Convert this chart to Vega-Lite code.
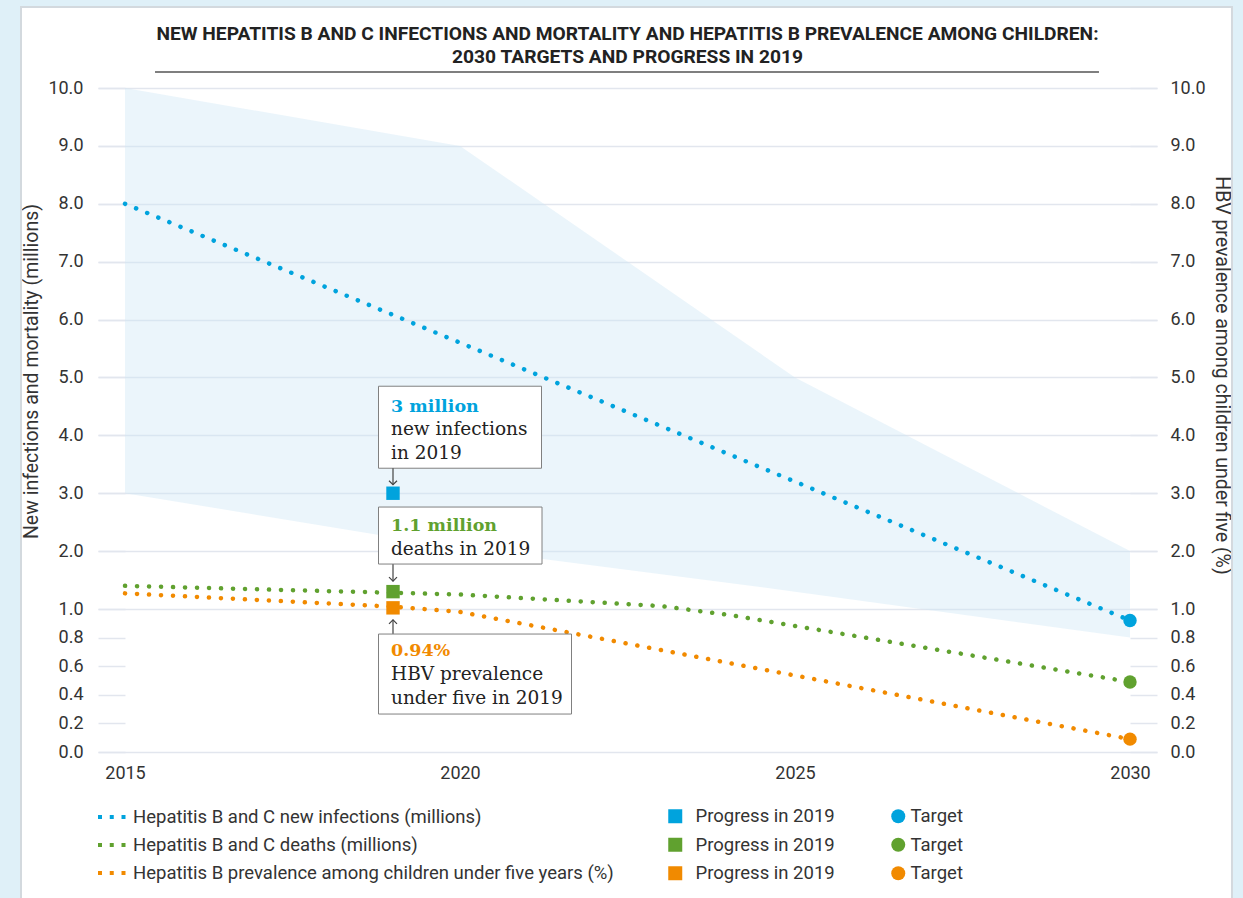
{
  "$schema": "https://vega.github.io/schema/vega-lite/v6.json",
  "width": 1059,
  "height": 664,
  "autosize": {"type": "none"},
  "padding": {"left": 98, "top": 88, "right": 86, "bottom": 146},
  "background": "#ffffff",
  "config": {"view": {"stroke": null}, "font": "Roboto"},
  "title": {
    "text": ["NEW HEPATITIS B AND C INFECTIONS AND MORTALITY AND HEPATITIS B PREVALENCE AMONG CHILDREN:", "2030 TARGETS AND PROGRESS IN 2019"],
    "anchor": "middle",
    "frame": "group",
    "font": "Roboto",
    "fontSize": 19.2,
    "fontWeight": "bold",
    "color": "#222222",
    "lineHeight": 23,
    "offset": 0,
    "dy": 102.5
  },
  "datasets": {
    "band": [
      {"year": 2015, "high": 10, "low": 3.0},
      {"year": 2020, "high": 9, "low": 2.05},
      {"year": 2025, "high": 5, "low": 1.3},
      {"year": 2030, "high": 2, "low": 0.8}
    ],
    "trend": [
      {"series": "Hepatitis B and C new infections (millions)", "year": 2015, "value": 8.0},
      {"series": "Hepatitis B and C new infections (millions)", "year": 2020, "value": 5.6},
      {"series": "Hepatitis B and C new infections (millions)", "year": 2025, "value": 3.2},
      {"series": "Hepatitis B and C new infections (millions)", "year": 2029, "value": 1.28},
      {"series": "Hepatitis B and C new infections (millions)", "year": 2030, "value": 0.92},
      {"series": "Hepatitis B and C deaths (millions)", "year": 2015, "value": 1.4},
      {"series": "Hepatitis B and C deaths (millions)", "year": 2020, "value": 1.25},
      {"series": "Hepatitis B and C deaths (millions)", "year": 2023, "value": 1.05},
      {"series": "Hepatitis B and C deaths (millions)", "year": 2024, "value": 0.96},
      {"series": "Hepatitis B and C deaths (millions)", "year": 2030, "value": 0.49},
      {"series": "Hepatitis B prevalence among children under five years (%)", "year": 2015, "value": 1.27},
      {"series": "Hepatitis B prevalence among children under five years (%)", "year": 2019, "value": 1.04},
      {"series": "Hepatitis B prevalence among children under five years (%)", "year": 2020, "value": 0.98},
      {"series": "Hepatitis B prevalence among children under five years (%)", "year": 2030, "value": 0.09}
    ],
    "progress": [
      {"key": "infections", "series": "Hepatitis B and C new infections (millions)", "year": 2019, "value": 3.0, "headline": "3 million", "detail": ["new infections", "in 2019"]},
      {"key": "deaths", "series": "Hepatitis B and C deaths (millions)", "year": 2019, "value": 1.3, "headline": "1.1 million", "detail": ["deaths in 2019"]},
      {"key": "prevalence", "series": "Hepatitis B prevalence among children under five years (%)", "year": 2019, "value": 1.02, "headline": "0.94%", "detail": ["HBV prevalence", "under five in 2019"]}
    ],
    "target": [
      {"series": "Hepatitis B and C new infections (millions)", "year": 2030, "value": 0.92},
      {"series": "Hepatitis B and C deaths (millions)", "year": 2030, "value": 0.49},
      {"series": "Hepatitis B prevalence among children under five years (%)", "year": 2030, "value": 0.09}
    ]
  },
  "layer": [
    {
      "data": {"values": [{}]},
      "mark": {"type": "rect", "filled": false, "stroke": "#dff0f8", "strokeWidth": 42},
      "encoding": {
        "x": {"datum": 2013.134, "type": "quantitative", "scale": {"domain": [2015, 2030], "padding": 27, "nice": false, "zero": false}, "axis": null},
        "x2": {"datum": 2031.836},
        "y": {"datum": 11.762, "type": "quantitative", "scale": {"domain": [0, 1, 10], "range": [664, 521, 0], "nice": false, "zero": false}, "axis": null},
        "y2": {"datum": -1.385}
      }
    },
    {
      "data": {"values": [{}]},
      "mark": {"type": "rect", "filled": false, "stroke": "#d3d9de", "strokeWidth": 2},
      "encoding": {
        "x": {"datum": 2013.448, "type": "quantitative", "scale": {"domain": [2015, 2030], "padding": 27, "nice": false, "zero": false}, "axis": null},
        "x2": {"datum": 2031.522},
        "y": {"datum": 11.399, "type": "quantitative", "scale": {"domain": [0, 1, 10], "range": [664, 521, 0], "nice": false, "zero": false}, "axis": null},
        "y2": {"datum": -1.385}
      }
    },
    {
      "data": {"name": "band"},
      "mark": {"type": "area", "fill": "#cee6f5", "opacity": 0.4},
      "encoding": {
        "x": {"field": "year", "type": "quantitative", "scale": {"domain": [2015, 2030], "padding": 27, "nice": false, "zero": false},
          "axis": {"values": [2015, 2020, 2025, 2030], "format": "d", "title": null, "grid": false, "domain": false, "ticks": false, "labelPadding": 12, "labelFont": "Roboto", "labelFontSize": 18, "labelColor": "#333333", "labelFlush": false, "labelOverlap": false}},
        "y": {"field": "high", "type": "quantitative", "scale": {"domain": [0, 1, 10], "range": [664, 521, 0], "nice": false, "zero": false},
          "axis": {"orient": "left", "values": [0, 0.2, 0.4, 0.6, 0.8, 1, 2, 3, 4, 5, 6, 7, 8, 9, 10], "format": ".1f",
            "title": "New infections and mortality (millions)", "titleFont": "Roboto", "titleFontSize": 19.5, "titleFontWeight": "normal", "titleColor": "#333333", "titlePadding": 6, "titleY": 283,
            "grid": true, "gridColor": "#e2e6ee", "gridWidth": 1.5,
            "gridOpacity": {"condition": {"test": "datum.value > 0 && datum.value < 1", "value": 0}, "value": 1},
            "domain": false, "ticks": true, "tickSize": -27, "tickColor": "#e2e6ee", "tickWidth": 1.5,
            "labelPadding": 42, "labelFont": "Roboto", "labelFontSize": 18, "labelColor": "#333333", "labelFlush": false, "labelOverlap": false}},
        "y2": {"field": "low"}
      }
    },
    {
      "data": {"values": [{}]},
      "mark": {"type": "rule", "stroke": "#555555", "strokeWidth": 1.5},
      "encoding": {
        "x": {"datum": 2015.448, "type": "quantitative", "scale": {"domain": [2015, 2030], "padding": 27, "nice": false, "zero": false}, "axis": null},
        "x2": {"datum": 2029.537},
        "y": {"datum": 10.276, "type": "quantitative", "scale": {"domain": [0, 1, 10], "range": [664, 521, 0], "nice": false, "zero": false}, "axis": null}
      }
    },
    {
      "data": {"name": "trend"},
      "mark": {"type": "line", "strokeWidth": 4.5, "strokeDash": [0.1, 11.9], "strokeCap": "round"},
      "encoding": {
        "x": {"field": "year", "type": "quantitative", "scale": {"domain": [2015, 2030], "padding": 27, "nice": false, "zero": false}, "axis": null},
        "y": {"field": "value", "type": "quantitative", "scale": {"domain": [0, 1, 10], "range": [664, 521, 0], "nice": false, "zero": false},
          "axis": {"orient": "right", "values": [0, 0.2, 0.4, 0.6, 0.8, 1, 2, 3, 4, 5, 6, 7, 8, 9, 10], "format": ".1f",
            "title": "HBV prevalence among children under five (%)", "titleFont": "Roboto", "titleFontSize": 19.5, "titleFontWeight": "normal", "titleColor": "#333333", "titlePadding": 6, "titleY": 287,
            "grid": false, "domain": false, "ticks": true, "tickSize": -27, "tickColor": "#e2e6ee", "tickWidth": 1.5,
            "labelPadding": 40, "labelFont": "Roboto", "labelFontSize": 18, "labelColor": "#333333", "labelFlush": false, "labelOverlap": false}},
        "stroke": {"field": "series", "type": "nominal",
          "scale": {"domain": ["Hepatitis B and C new infections (millions)", "Hepatitis B and C deaths (millions)", "Hepatitis B prevalence among children under five years (%)"], "range": ["#00a3dd", "#60a12f", "#f18a00"]},
          "legend": {"title": null, "orient": "none", "legendX": -2, "legendY": 713, "direction": "vertical", "symbolType": "stroke", "symbolSize": 784, "symbolStrokeWidth": 4, "symbolDash": [4, 7.75], "labelFont": "Roboto", "labelFontSize": 18.5, "labelColor": "#333333", "labelOffset": 5, "labelLimit": 700, "rowPadding": 2, "padding": 0}}
      }
    },
    {
      "data": {"name": "progress"},
      "mark": {"type": "point", "shape": "square", "filled": true, "size": 180, "opacity": 1},
      "encoding": {
        "x": {"field": "year", "type": "quantitative", "scale": {"domain": [2015, 2030], "padding": 27, "nice": false, "zero": false}, "axis": null},
        "y": {"field": "value", "type": "quantitative", "scale": {"domain": [0, 1, 10], "range": [664, 521, 0], "nice": false, "zero": false}, "axis": null},
        "fill": {"field": "series", "type": "nominal",
          "scale": {"domain": ["Hepatitis B and C new infections (millions)", "Hepatitis B and C deaths (millions)", "Hepatitis B prevalence among children under five years (%)"], "range": ["#00a3dd", "#60a12f", "#f18a00"]},
          "legend": {"title": null, "orient": "none", "legendX": 568, "legendY": 719, "direction": "vertical", "symbolType": "square", "symbolSize": 196, "symbolStrokeWidth": 0, "symbolOpacity": 1, "labelExpr": "'Progress in 2019'", "labelFont": "Roboto", "labelFontSize": 18.5, "labelColor": "#333333", "labelOffset": 11, "rowPadding": 9.5, "padding": 0}}
      }
    },
    {
      "data": {"name": "target"},
      "mark": {"type": "point", "shape": "circle", "filled": true, "size": 180, "opacity": 1},
      "encoding": {
        "x": {"field": "year", "type": "quantitative", "scale": {"domain": [2015, 2030], "padding": 27, "nice": false, "zero": false}, "axis": null},
        "y": {"field": "value", "type": "quantitative", "scale": {"domain": [0, 1, 10], "range": [664, 521, 0], "nice": false, "zero": false}, "axis": null},
        "fill": {"field": "series", "type": "nominal",
          "scale": {"domain": ["Hepatitis B and C new infections (millions)", "Hepatitis B and C deaths (millions)", "Hepatitis B prevalence among children under five years (%)"], "range": ["#00a3dd", "#60a12f", "#f18a00"]},
          "legend": {"title": null, "orient": "none", "legendX": 791, "legendY": 719, "direction": "vertical", "symbolType": "circle", "symbolSize": 196, "symbolStrokeWidth": 0, "symbolOpacity": 1, "labelExpr": "'Target'", "labelFont": "Roboto", "labelFontSize": 18.5, "labelColor": "#333333", "labelOffset": 3, "rowPadding": 9.5, "padding": 0}}
      }
    },
    {
      "data": {"name": "progress"},
      "transform": [{"filter": "datum.key === 'infections'"}],
      "mark": {"type": "rect", "width": 163, "height": 82, "xOffset": 67, "yOffset": -66, "fill": "#ffffff", "stroke": "#808080", "strokeWidth": 1},
      "encoding": {
        "x": {"field": "year", "type": "quantitative", "scale": {"domain": [2015, 2030], "padding": 27, "nice": false, "zero": false}, "axis": null},
        "y": {"field": "value", "type": "quantitative", "scale": {"domain": [0, 1, 10], "range": [664, 521, 0], "nice": false, "zero": false}, "axis": null}
      }
    },
    {
      "data": {"name": "progress"},
      "transform": [{"filter": "datum.key === 'deaths'"}],
      "mark": {"type": "rect", "width": 163.5, "height": 57, "xOffset": 67.25, "yOffset": -56.1, "fill": "#ffffff", "stroke": "#808080", "strokeWidth": 1},
      "encoding": {
        "x": {"field": "year", "type": "quantitative", "scale": {"domain": [2015, 2030], "padding": 27, "nice": false, "zero": false}, "axis": null},
        "y": {"field": "value", "type": "quantitative", "scale": {"domain": [0, 1, 10], "range": [664, 521, 0], "nice": false, "zero": false}, "axis": null}
      }
    },
    {
      "data": {"name": "progress"},
      "transform": [{"filter": "datum.key === 'prevalence'"}],
      "mark": {"type": "rect", "width": 193, "height": 80, "xOffset": 82, "yOffset": 66.2, "fill": "#ffffff", "stroke": "#808080", "strokeWidth": 1},
      "encoding": {
        "x": {"field": "year", "type": "quantitative", "scale": {"domain": [2015, 2030], "padding": 27, "nice": false, "zero": false}, "axis": null},
        "y": {"field": "value", "type": "quantitative", "scale": {"domain": [0, 1, 10], "range": [664, 521, 0], "nice": false, "zero": false}, "axis": null}
      }
    },
    {
      "data": {"name": "progress"},
      "transform": [{"filter": "datum.key === 'infections'"}],
      "mark": {"type": "text", "align": "left", "baseline": "alphabetic", "dx": -2, "dy": -81, "font": "DejaVu Serif", "fontSize": 17.5, "fontWeight": "bold", "fill": "#00a3dd"},
      "encoding": {
        "x": {"field": "year", "type": "quantitative", "scale": {"domain": [2015, 2030], "padding": 27, "nice": false, "zero": false}, "axis": null},
        "y": {"field": "value", "type": "quantitative", "scale": {"domain": [0, 1, 10], "range": [664, 521, 0], "nice": false, "zero": false}, "axis": null},
        "text": {"field": "headline"}
      }
    },
    {
      "data": {"name": "progress"},
      "transform": [{"filter": "datum.key === 'deaths'"}],
      "mark": {"type": "text", "align": "left", "baseline": "alphabetic", "dx": -2, "dy": -60.6, "font": "DejaVu Serif", "fontSize": 17.5, "fontWeight": "bold", "fill": "#60a12f"},
      "encoding": {
        "x": {"field": "year", "type": "quantitative", "scale": {"domain": [2015, 2030], "padding": 27, "nice": false, "zero": false}, "axis": null},
        "y": {"field": "value", "type": "quantitative", "scale": {"domain": [0, 1, 10], "range": [664, 521, 0], "nice": false, "zero": false}, "axis": null},
        "text": {"field": "headline"}
      }
    },
    {
      "data": {"name": "progress"},
      "transform": [{"filter": "datum.key === 'prevalence'"}],
      "mark": {"type": "text", "align": "left", "baseline": "alphabetic", "dx": -2, "dy": 48.2, "font": "DejaVu Serif", "fontSize": 17.5, "fontWeight": "bold", "fill": "#f18a00"},
      "encoding": {
        "x": {"field": "year", "type": "quantitative", "scale": {"domain": [2015, 2030], "padding": 27, "nice": false, "zero": false}, "axis": null},
        "y": {"field": "value", "type": "quantitative", "scale": {"domain": [0, 1, 10], "range": [664, 521, 0], "nice": false, "zero": false}, "axis": null},
        "text": {"field": "headline"}
      }
    },
    {
      "data": {"name": "progress"},
      "transform": [{"filter": "datum.key === 'infections'"}],
      "mark": {"type": "text", "align": "left", "baseline": "alphabetic", "dx": -2, "dy": -58, "lineHeight": 24, "font": "DejaVu Serif", "fontSize": 18.5, "fill": "#222222"},
      "encoding": {
        "x": {"field": "year", "type": "quantitative", "scale": {"domain": [2015, 2030], "padding": 27, "nice": false, "zero": false}, "axis": null},
        "y": {"field": "value", "type": "quantitative", "scale": {"domain": [0, 1, 10], "range": [664, 521, 0], "nice": false, "zero": false}, "axis": null},
        "text": {"field": "detail"}
      }
    },
    {
      "data": {"name": "progress"},
      "transform": [{"filter": "datum.key === 'deaths'"}],
      "mark": {"type": "text", "align": "left", "baseline": "alphabetic", "dx": -2, "dy": -36.6, "lineHeight": 24, "font": "DejaVu Serif", "fontSize": 18.5, "fill": "#222222"},
      "encoding": {
        "x": {"field": "year", "type": "quantitative", "scale": {"domain": [2015, 2030], "padding": 27, "nice": false, "zero": false}, "axis": null},
        "y": {"field": "value", "type": "quantitative", "scale": {"domain": [0, 1, 10], "range": [664, 521, 0], "nice": false, "zero": false}, "axis": null},
        "text": {"field": "detail"}
      }
    },
    {
      "data": {"name": "progress"},
      "transform": [{"filter": "datum.key === 'prevalence'"}],
      "mark": {"type": "text", "align": "left", "baseline": "alphabetic", "dx": -2, "dy": 72.2, "lineHeight": 24, "font": "DejaVu Serif", "fontSize": 18.5, "fill": "#222222"},
      "encoding": {
        "x": {"field": "year", "type": "quantitative", "scale": {"domain": [2015, 2030], "padding": 27, "nice": false, "zero": false}, "axis": null},
        "y": {"field": "value", "type": "quantitative", "scale": {"domain": [0, 1, 10], "range": [664, 521, 0], "nice": false, "zero": false}, "axis": null},
        "text": {"field": "detail"}
      }
    },
    {
      "data": {"name": "progress"},
      "transform": [{"filter": "datum.key === 'infections'"}],
      "mark": {"type": "rule", "stroke": "#444444", "strokeWidth": 1.2, "yOffset": -25, "y2Offset": -8.5},
      "encoding": {
        "x": {"field": "year", "type": "quantitative", "scale": {"domain": [2015, 2030], "padding": 27, "nice": false, "zero": false}, "axis": null},
        "y": {"field": "value", "type": "quantitative", "scale": {"domain": [0, 1, 10], "range": [664, 521, 0], "nice": false, "zero": false}, "axis": null},
        "y2": {"field": "value"}
      }
    },
    {
      "data": {"name": "progress"},
      "transform": [{"filter": "datum.key === 'infections'"}],
      "mark": {"type": "point", "shape": "M-1,-1L0,0L1,-1", "filled": false, "stroke": "#444444", "strokeWidth": 1.2, "opacity": 1, "size": 64, "yOffset": -8.5},
      "encoding": {
        "x": {"field": "year", "type": "quantitative", "scale": {"domain": [2015, 2030], "padding": 27, "nice": false, "zero": false}, "axis": null},
        "y": {"field": "value", "type": "quantitative", "scale": {"domain": [0, 1, 10], "range": [664, 521, 0], "nice": false, "zero": false}, "axis": null}
      }
    },
    {
      "data": {"name": "progress"},
      "transform": [{"filter": "datum.key === 'deaths'"}],
      "mark": {"type": "rule", "stroke": "#444444", "strokeWidth": 1.2, "yOffset": -27.5, "y2Offset": -10.5},
      "encoding": {
        "x": {"field": "year", "type": "quantitative", "scale": {"domain": [2015, 2030], "padding": 27, "nice": false, "zero": false}, "axis": null},
        "y": {"field": "value", "type": "quantitative", "scale": {"domain": [0, 1, 10], "range": [664, 521, 0], "nice": false, "zero": false}, "axis": null},
        "y2": {"field": "value"}
      }
    },
    {
      "data": {"name": "progress"},
      "transform": [{"filter": "datum.key === 'deaths'"}],
      "mark": {"type": "point", "shape": "M-1,-1L0,0L1,-1", "filled": false, "stroke": "#444444", "strokeWidth": 1.2, "opacity": 1, "size": 64, "yOffset": -10.5},
      "encoding": {
        "x": {"field": "year", "type": "quantitative", "scale": {"domain": [2015, 2030], "padding": 27, "nice": false, "zero": false}, "axis": null},
        "y": {"field": "value", "type": "quantitative", "scale": {"domain": [0, 1, 10], "range": [664, 521, 0], "nice": false, "zero": false}, "axis": null}
      }
    },
    {
      "data": {"name": "progress"},
      "transform": [{"filter": "datum.key === 'prevalence'"}],
      "mark": {"type": "rule", "stroke": "#444444", "strokeWidth": 1.2, "yOffset": 26, "y2Offset": 12},
      "encoding": {
        "x": {"field": "year", "type": "quantitative", "scale": {"domain": [2015, 2030], "padding": 27, "nice": false, "zero": false}, "axis": null},
        "y": {"field": "value", "type": "quantitative", "scale": {"domain": [0, 1, 10], "range": [664, 521, 0], "nice": false, "zero": false}, "axis": null},
        "y2": {"field": "value"}
      }
    },
    {
      "data": {"name": "progress"},
      "transform": [{"filter": "datum.key === 'prevalence'"}],
      "mark": {"type": "point", "shape": "M-1,1L0,0L1,1", "filled": false, "stroke": "#444444", "strokeWidth": 1.2, "opacity": 1, "size": 64, "yOffset": 12},
      "encoding": {
        "x": {"field": "year", "type": "quantitative", "scale": {"domain": [2015, 2030], "padding": 27, "nice": false, "zero": false}, "axis": null},
        "y": {"field": "value", "type": "quantitative", "scale": {"domain": [0, 1, 10], "range": [664, 521, 0], "nice": false, "zero": false}, "axis": null}
      }
    }
  ],
  "resolve": {"scale": {"fill": "independent"}, "axis": {"y": "independent", "x": "independent"}}
}
